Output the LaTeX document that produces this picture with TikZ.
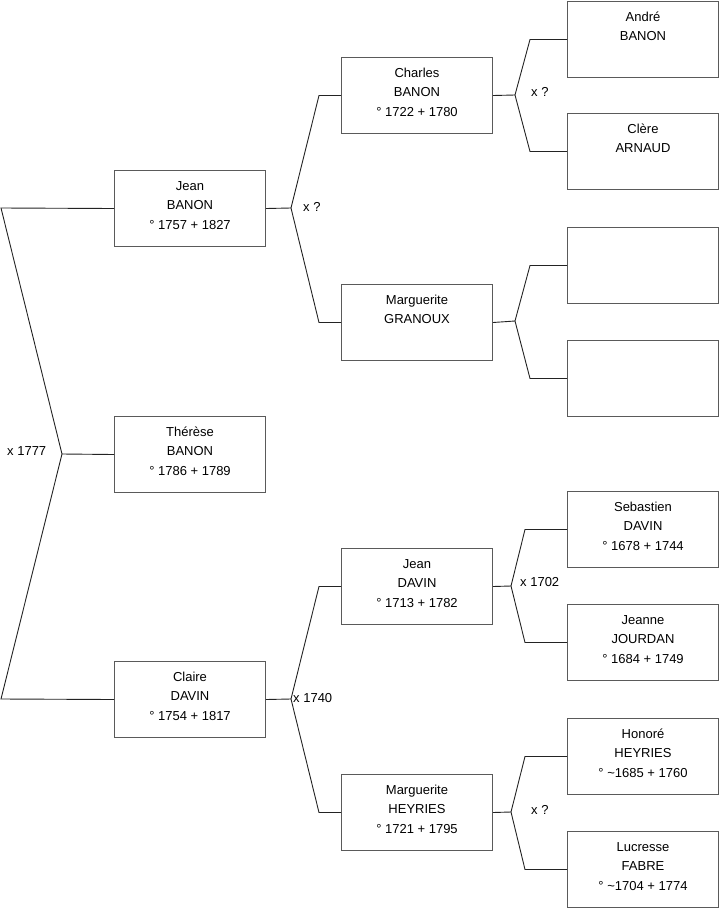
\documentclass[tikz,border=0pt]{standalone}
\usepackage{fontspec}
\setmainfont{Liberation Sans}
\usetikzlibrary{positioning}
\definecolor{boxline}{RGB}{90,90,90}
\definecolor{linkline}{RGB}{35,35,35}
\newcommand{\famtext}[1]{\parbox[c][64pt][t]{151pt}{\centering\strut #1}}

\begin{document}
\begin{tikzpicture}[x=1pt, y=-1pt,
  every node/.style={font=\fontsize{13}{19.5}\selectfont},
  person/.style={draw=boxline, line width=1pt, anchor=north west, inner xsep=0pt, inner ysep=6pt,
                 minimum width=151pt, minimum height=76pt},
  link/.style={draw=linkline, line width=0.9pt},
  union/.style={inner sep=0pt, anchor=west}
]
  \useasboundingbox (0,0) rectangle (719,908);

  % first column
  \node[person] (jeanB) at (114,170) {\famtext{Jean\\BANON\\° 1757 + 1827}};
  \node[person] (therese) at (114,416) {\famtext{Thérèse\\BANON\\° 1786 + 1789}};
  \node[person] (claire) at (114,661) {\famtext{Claire\\DAVIN\\° 1754 + 1817}};

  % second column
  \node[person] (charles) at (341,57) {\famtext{Charles\\BANON\\° 1722 + 1780}};
  \node[person] (margG) at (341,284) {\famtext{Marguerite\\GRANOUX}};
  \node[person] (jeanD) at (341,548) {\famtext{Jean\\DAVIN\\° 1713 + 1782}};
  \node[person] (margH) at (341,774) {\famtext{Marguerite\\HEYRIES\\° 1721 + 1795}};

  % third column
  \node[person] (andre) at (567,1) {\famtext{André\\BANON}};
  \node[person] (clere) at (567,113) {\famtext{Clère\\ARNAUD}};
  \node[person] (unknA) at (567,227) {\famtext{}};
  \node[person] (unknB) at (567,340) {\famtext{}};
  \node[person] (sebastien) at (567,491) {\famtext{Sebastien\\DAVIN\\° 1678 + 1744}};
  \node[person] (jeanne) at (567,604) {\famtext{Jeanne\\JOURDAN\\° 1684 + 1749}};
  \node[person] (honore) at (567,718) {\famtext{Honoré\\HEYRIES\\° \textasciitilde1685 + 1760}};
  \node[person] (lucresse) at (567,831) {\famtext{Lucresse\\FABRE\\° \textasciitilde1704 + 1774}};

  % forks
  \coordinate (root) at (62,454);
  \coordinate (rootA) at (1,208);
  \coordinate (rootB) at (1,699);
  \coordinate (jeanBx) at (291,208);
  \coordinate (clairex) at (291,699);
  \coordinate (charlesx) at (515,95);
  \coordinate (margGx) at (515,321);
  \coordinate (jeanDx) at (511,586);
  \coordinate (margHx) at (511,812);

  \draw[link] (therese.west) -- (root) -- (rootA) -- (jeanB.west);
  \draw[link] (root) -- (rootB) -- (claire.west);

  \draw[link] (jeanB.east) -- (jeanBx) -- ([xshift=-22pt]charles.west) -- (charles.west);
  \draw[link] (jeanBx) -- ([xshift=-22pt]margG.west) -- (margG.west);
  \draw[link] (claire.east) -- (clairex) -- ([xshift=-22pt]jeanD.west) -- (jeanD.west);
  \draw[link] (clairex) -- ([xshift=-22pt]margH.west) -- (margH.west);

  \draw[link] (charles.east) -- (charlesx) -- ([xshift=-37pt]andre.west) -- (andre.west);
  \draw[link] (charlesx) -- ([xshift=-37pt]clere.west) -- (clere.west);
  \draw[link] (margG.east) -- (margGx) -- ([xshift=-37pt]unknA.west) -- (unknA.west);
  \draw[link] (margGx) -- ([xshift=-37pt]unknB.west) -- (unknB.west);
  \draw[link] (jeanD.east) -- (jeanDx) -- ([xshift=-42pt]sebastien.west) -- (sebastien.west);
  \draw[link] (jeanDx) -- ([xshift=-42pt]jeanne.west) -- (jeanne.west);
  \draw[link] (margH.east) -- (margHx) -- ([xshift=-42pt]honore.west) -- (honore.west);
  \draw[link] (margHx) -- ([xshift=-42pt]lucresse.west) -- (lucresse.west);

  % marriages
  \node[union] (u1777) at (7,451) {x 1777};
  \node[union] (uJeanB) at (303,207) {x ?};
  \node[union] (u1740) at (293,698) {x 1740};
  \node[union] (uCharles) at (531,92) {x ?};
  \node[union] (u1702) at (520,582) {x 1702};
  \node[union] (uMargH) at (531,810) {x ?};
\end{tikzpicture}
\end{document}
